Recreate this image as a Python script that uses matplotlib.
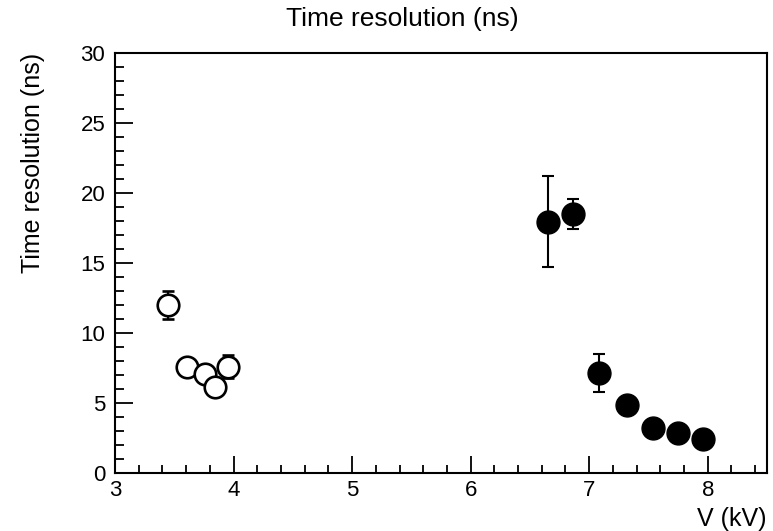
import matplotlib.pyplot as plt
from matplotlib.ticker import MultipleLocator

plt.rcParams['font.family'] = ['Liberation Sans', 'DejaVu Sans']

# open markers (low voltage)
v_open = [3.45, 3.61, 3.76, 3.84, 3.95]
t_open = [12.0, 7.6, 7.1, 6.15, 7.6]
e_open = [1.0, 0.4, 0.4, 0.4, 0.8]

# filled markers (high voltage)
v_full = [6.65, 6.86, 7.08, 7.32, 7.54, 7.75, 7.96]
t_full = [17.95, 18.5, 7.15, 4.85, 3.2, 2.85, 2.4]
e_full = [3.25, 1.05, 1.35, 0.3, 0.3, 0.3, 0.3]

fig = plt.figure(figsize=(7.73, 5.31), dpi=100)
ax = fig.add_axes([0.1488, 0.1092, 0.8434, 0.7910])

ax.errorbar(v_open, t_open, yerr=e_open, fmt='o', color='black', mfc='white', mec='black',
            mew=1.9, ms=15.5, elinewidth=1.5, capsize=4.5, capthick=1.5)
ax.errorbar(v_full, t_full, yerr=e_full, fmt='o', color='black', mfc='black', mec='black',
            ms=16.5, elinewidth=1.5, capsize=4.5, capthick=1.5)

ax.set_xlim(3, 8.5)
ax.set_ylim(0, 30)
ax.xaxis.set_major_locator(MultipleLocator(1))
ax.xaxis.set_minor_locator(MultipleLocator(0.2))
ax.yaxis.set_major_locator(MultipleLocator(5))
ax.yaxis.set_minor_locator(MultipleLocator(1))

ax.tick_params(which='both', direction='in', top=False, right=False, width=1.3, labelsize=16)
ax.tick_params(axis='x', which='major', length=12, pad=5)
ax.tick_params(axis='x', which='minor', length=6)
ax.tick_params(axis='y', which='major', length=13, pad=7)
ax.tick_params(axis='y', which='minor', length=6.5)
for s in ax.spines.values():
    s.set_linewidth(1.5)

ax.set_xlabel('V (kV)', fontsize=18, loc='right')
ax.xaxis.set_label_coords(1.0, -0.08)
ax.set_ylabel('Time resolution (ns)', fontsize=18, loc='top')
ax.yaxis.set_label_coords(-0.107, 1.0)

fig.text(0.52, 0.964, 'Time resolution (ns)', fontsize=19, ha='center', va='center')

plt.savefig('out.png', dpi=100)
